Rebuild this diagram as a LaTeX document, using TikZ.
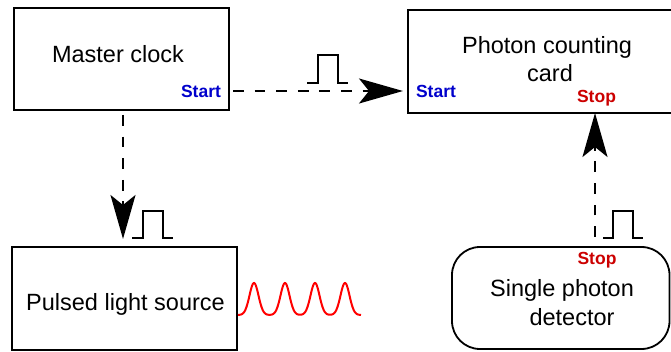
\documentclass[tikz,border=0pt]{standalone}
\usepackage{fontspec}
\setmainfont{Liberation Sans}
\usetikzlibrary{arrows.meta}
\definecolor{startblue}{HTML}{0000CC}
\definecolor{stopred}{HTML}{CC0000}
\begin{document}
\begin{tikzpicture}[x=1pt,y=-1pt,
  boxstyle/.style={draw=black, line width=1.8pt, fill=white},
  maintext/.style={anchor=base, inner sep=0pt, font=\fontsize{23.5}{28}\selectfont},
  startlbl/.style={anchor=base, inner sep=0pt, text=startblue, font=\fontsize{17.5}{20}\selectfont\bfseries},
  stoplbl/.style={anchor=base, inner sep=0pt, text=stopred, font=\fontsize{17.5}{20}\selectfont\bfseries},
  sigarrow/.style={line width=2.2pt, dash pattern=on 10.8pt off 10.8pt, -{Stealth[length=44pt, width=25pt, inset=10pt]}},
  pulse/.style={line width=2.2pt, line join=miter},
  wave/.style={line width=2pt, draw=red}
]
\useasboundingbox (0,0) rectangle (671,352);

% boxes
\draw[boxstyle] (14,8) rectangle (229,110);
\draw[boxstyle] (408,10) rectangle (690,113);
\draw[boxstyle] (12,247) rectangle (237,350);
\draw[boxstyle, rounded corners=28pt] (452,247) rectangle (669.5,349);

% texts
\node[maintext] (mctext) at (118,63) {Master clock};
\node[maintext] (pc1) at (547,54) {Photon counting};
\node[maintext] (pc2) at (550,82) {card};
\node[maintext] (pls) at (125.5,310) {Pulsed light source};
\node[maintext] (spd1) at (562,297) {Single photon};
\node[maintext] (spd2) at (572,325) {detector};

% labels
\node[startlbl] (st1) at (201,98) {Start};
\node[startlbl] (st2) at (436,98) {Start};
\node[stoplbl] (sp1) at (596.5,103) {Stop};
\node[stoplbl] (sp2) at (597,264.5) {Stop};

% arrow end points
\coordinate (a1s) at (233,91);
\coordinate (a1e) at (403,91);
\coordinate (a2s) at (123,115);
\coordinate (a2e) at (123,239);
\coordinate (a3s) at (595,237);
\coordinate (a3e) at (595,113);

\draw[sigarrow] (a1s) -- (a1e);
\draw[sigarrow] (a2s) -- (a2e);
\draw[sigarrow] (a3s) -- (a3e);

% pulses
\draw[pulse] (307,83) -- (318,83) -- (318,55) -- (338,55) -- (338,83) -- (348,83);
\draw[pulse] (132,238) -- (143,238) -- (143,211) -- (163,211) -- (163,238) -- (173,238);
\draw[pulse] (603,238) -- (613,238) -- (613,211) -- (633,211) -- (633,238) -- (643,238);

% red pulse train
\draw[wave] plot[domain=238:361, samples=300, smooth]
  (\x, {315 - 32*(exp(-((\x-254)/6.4)^2) + exp(-((\x-285)/6.4)^2) + exp(-((\x-315)/6.4)^2) + exp(-((\x-345)/6.4)^2))});
\end{tikzpicture}
\end{document}
